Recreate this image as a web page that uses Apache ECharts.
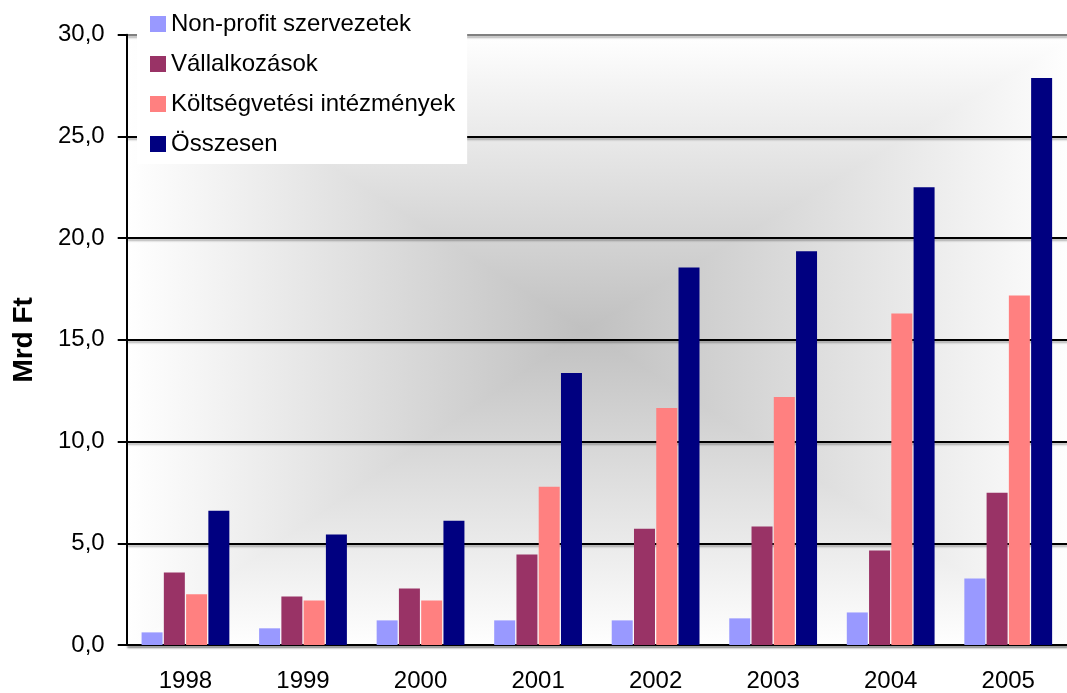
<!DOCTYPE html>
<html>
<head>
    <meta charset="utf-8">
    <title>Mrd Ft</title>
    <script src="https://cdn.jsdelivr.net/npm/echarts@6/dist/echarts.min.js"></script>
    <style>
        html, body { margin: 0; padding: 0; background: #fff; }
    </style>
</head>
<body>
    <div id="chartwin" style="width: 1067px;height:693px;"></div>
    <script type="text/javascript">
// adatok
var years = ['1998', '1999', '2000', '2001', '2002', '2003', '2004', '2005'];
var nonProfit = [0.62, 0.82, 1.21, 1.21, 1.21, 1.31, 1.60, 3.27];
var vallalkozasok = [3.56, 2.39, 2.78, 4.45, 5.72, 5.82, 4.64, 7.49];
var koltsegvetesi = [2.49, 2.19, 2.19, 7.78, 11.65, 12.19, 16.30, 17.18];
var osszesen = [6.60, 5.43, 6.11, 13.37, 18.56, 19.35, 22.50, 27.87];
var seriesNames = ['Non-profit szervezetek', 'Vállalkozások', 'Költségvetési intézmények', 'Összesen'];

var myChart = echarts.init(document.getElementById('chartwin'));

// plot terület (a jobb széle kilóg a képből)
var pl = 126.7, pt = 34.7, pr = 1077.6, pb = 646.7;
// a legsötétebb pont kicsit balra-fent van a közép­ponttól
var cx = 585, cy = 330;
var mid = '#c0c0c0', edge = '#ffffff';

function grad(x2, y2, from, to) {
    return {
        type: 'linear', x: 0, y: 0, x2: x2, y2: y2,
        colorStops: [{offset: 0, color: from}, {offset: 1, color: to}]
    };
}
function tri(points, g) {
    return {type: 'polygon', z: -10, silent: true, shape: {points: points},
        style: {fill: g, stroke: g, lineWidth: 1.5}};
}

// "középről" típusú szürke háttér, négy háromszögből
var bg = [
    tri([[pl, pt], [pr, pt], [cx, cy]], grad(0, 1, edge, mid)),
    tri([[pl, pb], [pr, pb], [cx, cy]], grad(0, 1, mid, edge)),
    tri([[pl, pt], [pl, pb], [cx, cy]], grad(1, 0, edge, mid)),
    tri([[pr, pt], [pr, pb], [cx, cy]], grad(1, 0, mid, edge))
];

var font = 'Liberation Sans, Arial, sans-serif';
var gridShadow = {shadowColor: 'rgba(0,0,0,0.3)', shadowOffsetX: 1, shadowOffsetY: 2, shadowBlur: 2};

var option = {
    animation: false,
    color: ['#9999FF', '#993366', '#FF8080', '#000080'],
    graphic: {elements: bg},
    legend: {
        orient: 'vertical',
        left: 137,
        top: 0,
        padding: [12, 12, 8, 13],
        backgroundColor: '#fff',
        itemWidth: 16,
        itemHeight: 16,
        itemGap: 16,
        icon: 'rect',
        textStyle: {fontFamily: font, fontSize: 24, color: '#000'},
        data: seriesNames
    },
    grid: {left: pl, top: pt, right: 1067 - pr, bottom: 693 - pb, containLabel: false},
    xAxis: {
        type: 'category',
        data: years,
        axisLine: {lineStyle: Object.assign({color: '#000', width: 2}, gridShadow)},
        axisTick: {length: 8, lineStyle: {color: '#000', width: 2}},
        axisLabel: {fontFamily: font, fontSize: 24, color: '#000', margin: 24}
    },
    yAxis: {
        type: 'value',
        min: 0,
        max: 30,
        interval: 5,
        name: 'Mrd Ft',
        nameLocation: 'middle',
        nameGap: 88,
        nameTextStyle: {fontFamily: font, fontSize: 28, fontWeight: 'bold', color: '#000'},
        axisLine: {show: true, lineStyle: {color: '#000', width: 2}},
        axisTick: {show: true, length: 9, lineStyle: {color: '#000', width: 2}},
        axisLabel: {
            fontFamily: font, fontSize: 24, color: '#000', margin: 22,
            formatter: function (v) { return v.toFixed(1).replace('.', ','); }
        },
        splitLine: {
            lineStyle: Object.assign({
                color: ['#000', '#000', '#000', '#000', '#000', '#000', '#808080'],
                width: 2
            }, gridShadow)
        }
    },
    series: [
        {type: 'bar', name: seriesNames[0], data: nonProfit, barWidth: 21, barGap: '6%'},
        {type: 'bar', name: seriesNames[1], data: vallalkozasok, barWidth: 21, barGap: '6%'},
        {type: 'bar', name: seriesNames[2], data: koltsegvetesi, barWidth: 21, barGap: '6%'},
        {type: 'bar', name: seriesNames[3], data: osszesen, barWidth: 21, barGap: '6%'}
    ]
};

myChart.setOption(option);
    </script>
</body>
</html>
